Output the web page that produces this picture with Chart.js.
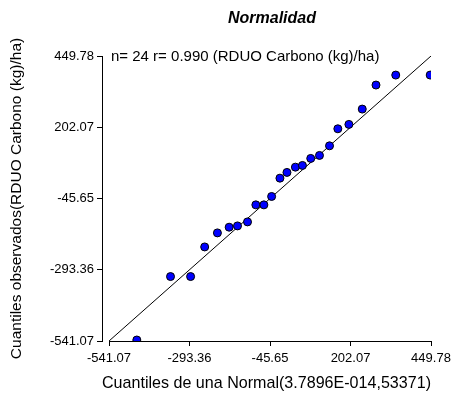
<!DOCTYPE html>
<html>
<head>
<meta charset="utf-8">
<script src="https://cdn.jsdelivr.net/npm/chart.js@4/dist/chart.umd.min.js"></script>
<style>
  html, body { margin: 0; padding: 0; background: #fff; }
  #wrap { width: 459px; height: 399px; }
</style>
</head>
<body>
<div id="wrap"><canvas id="qqChart" width="459" height="399"></canvas></div>
<script>
// Quantile values
const normalQuantiles = [-455.5, -351.8, -290.0, -246.7, -207.5, -171.4, -145.7, -114.9,
    -89.2, -64.5, -40.7, -15.1, 6.5, 32.5, 54.1, 79.7, 106.6, 137.5, 163.1, 197.1, 238.2, 280.5, 341.3, 447.3];
const observedQuantiles = [-537.6, -317.0, -317.0, -214.0, -165.2, -145.4, -140.9, -127.0,
    -67.8, -67.8, -38.6, 25.1, 45.0, 63.4, 69.3, 93.7, 104.1, 137.5, 196.7, 212.0, 265.2, 348.8, 383.5, 383.5];
const tickValues = [-541.07, -293.36, -45.65, 202.07, 449.78];
const refLine = [-541.07, 449.78];

const axisMin = -541.07, axisMax = 449.78;
const fontName = "'Liberation Sans', Arial, sans-serif";

const points = normalQuantiles.map((x, i) => ({ x: x, y: observedQuantiles[i] }));
const linePoints = refLine.map(v => ({ x: v, y: v }));

// title, annotation and the shortened x axis line
const extrasPlugin = {
    id: 'extras',
    afterDraw(chart) {
        const ctx = chart.ctx;
        const xs = chart.scales.x, ys = chart.scales.y;
        ctx.save();
        ctx.fillStyle = '#000';
        ctx.font = 'italic bold 16px ' + fontName;
        ctx.textAlign = 'center';
        ctx.textBaseline = 'alphabetic';
        ctx.fillText('Normalidad', 272, 23);

        ctx.font = '15px ' + fontName;
        ctx.textAlign = 'left';
        ctx.textBaseline = 'middle';
        ctx.fillText('n= 24 r= 0.990 (RDUO Carbono (kg)/ha)', 111, ys.getPixelForValue(axisMax) + 1);

        ctx.strokeStyle = '#000';
        ctx.lineWidth = 1;
        ctx.beginPath();
        const yb = Math.round(ys.getPixelForValue(axisMin)) + 0.5;
        ctx.moveTo(xs.getPixelForValue(axisMin), yb);
        ctx.lineTo(xs.getPixelForValue(axisMax), yb);
        ctx.stroke();
        ctx.restore();
    }
};

const ctx = document.getElementById('qqChart').getContext('2d');
const qqChart = new Chart(ctx, {
    type: 'scatter',
    data: {
        datasets: [
            {
                type: 'line',
                data: linePoints,
                borderColor: '#000',
                borderWidth: 1,
                pointRadius: 0,
                fill: false,
                order: 2
            },
            {
                data: points,
                backgroundColor: '#0000ff',
                borderColor: '#000',
                borderWidth: 1,
                pointRadius: 4,
                order: 1
            }
        ]
    },
    options: {
        responsive: false,
        animation: false,
        layout: { padding: { left: 0, right: 28, top: 56, bottom: 0 } },
        plugins: {
            legend: { display: false },
            tooltip: { enabled: false }
        },
        scales: {
            x: {
                type: 'linear',
                min: axisMin - 7 * (axisMax - axisMin) / 321,
                max: axisMax,
                afterBuildTicks: s => { s.ticks = tickValues.map(v => ({ value: v })); },
                afterFit: s => { s.height = 58; },
                border: { display: false },
                grid: { drawOnChartArea: false, tickLength: 5, color: '#000', tickColor: '#000' },
                ticks: {
                    color: '#000',
                    font: { family: fontName, size: 13 },
                    padding: 5,
                    maxRotation: 0,
                    callback: v => v.toFixed(2)
                },
                title: {
                    display: true,
                    text: 'Cuantiles de una Normal(3.7896E-014,53371)',
                    color: '#000',
                    font: { family: fontName, size: 17 },
                    padding: { top: 2, bottom: 5 }
                }
            },
            y: {
                type: 'linear',
                min: axisMin,
                max: axisMax,
                afterBuildTicks: s => { s.ticks = tickValues.map(v => ({ value: v })); },
                afterFit: s => { s.width = 102; },
                border: { display: true, color: '#000', width: 1 },
                grid: { drawOnChartArea: false, tickLength: 5, color: '#000', tickColor: '#000' },
                ticks: {
                    color: '#000',
                    font: { family: fontName, size: 13 },
                    padding: 3,
                    callback: v => v.toFixed(2)
                },
                title: {
                    display: true,
                    text: 'Cuantiles observados(RDUO Carbono (kg)/ha)',
                    color: '#000',
                    font: { family: fontName, size: 15.5 },
                    padding: { top: 7, bottom: 4 }
                }
            }
        }
    },
    plugins: [extrasPlugin]
});
</script>
</body>
</html>
